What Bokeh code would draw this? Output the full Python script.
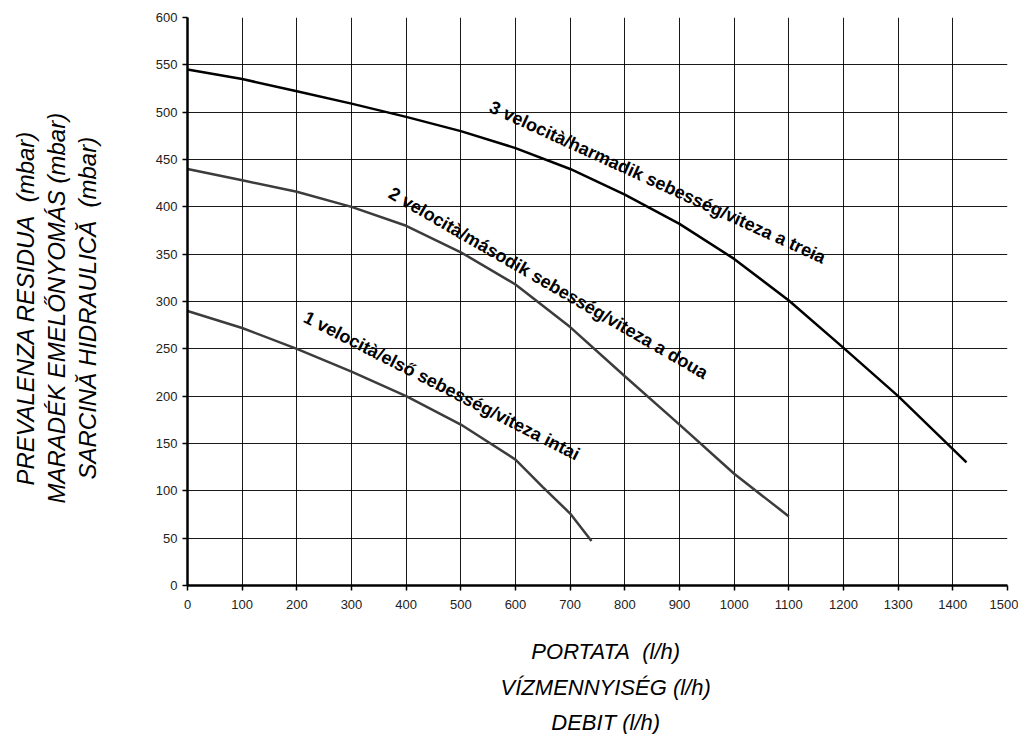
import math
from bokeh.plotting import figure
from bokeh.layouts import column
from bokeh.models import Label, Range1d, FixedTicker
from bokeh.core.properties import value
from bokeh.embed import file_html
from bokeh.resources import INLINE

x_ticks = list(range(0, 1501, 100))
y_ticks = list(range(0, 601, 50))

q3 = [0, 100, 200, 300, 400, 500, 600, 700, 800, 900, 1000, 1100, 1200, 1300, 1425]
h3 = [545, 535, 522, 509, 495, 480, 462, 440, 413, 382, 345, 301, 251, 200, 130]

q2 = [0, 100, 200, 300, 400, 500, 600, 700, 800, 900, 1000, 1100]
h2 = [440, 428, 416, 400, 380, 352, 318, 273, 221, 170, 118, 73]

q1 = [0, 100, 200, 300, 400, 500, 600, 650, 700, 739]
h1 = [290, 272, 250, 226, 200, 170, 133, 104, 76, 47]

labels = ["1 velocità/első sebesség/viteza intai",
          "2 velocità/második sebesség/viteza a doua",
          "3 velocità/harmadik sebesség/viteza a treia"]

NB = "\u00a0"
y_title = ["PREVALENZA RESIDUA" + NB + " (mbar)" + NB + NB,
           "MARADÉK EMELŐNYOMÁS (mbar)" + NB + NB,
           "SARCINĂ HIDRAULICĂ" + NB + " (mbar)" + NB + NB]
x_title = ["PORTATA" + NB + " (l/h)", "VÍZMENNYISÉG (l/h)", "DEBIT (l/h)"]

p = figure(width=1018, height=617, output_backend="svg", toolbar_location=None,
           x_range=Range1d(0, 1500), y_range=Range1d(0, 600),
           min_border_left=187, min_border_right=11, min_border_top=17, min_border_bottom=32)
p.outline_line_color = None
p.background_fill_color = "white"
p.border_fill_color = "white"

for ax, ticks in ((p.xaxis[0], x_ticks), (p.yaxis[0], y_ticks)):
    ax.ticker = FixedTicker(ticks=ticks)
    ax.axis_line_width = 2.5
    ax.axis_line_color = "black"
    ax.major_tick_line_color = "black"
    ax.major_tick_line_width = 1.5
    ax.major_tick_out = 5
    ax.major_tick_in = 0
    ax.minor_tick_line_color = None
    ax.major_label_text_font = "Liberation Sans"
    ax.major_label_text_font_size = "13px"
    ax.major_label_text_color = "#222222"
    ax.axis_label_text_font = "Liberation Sans"
    ax.axis_label_text_font_style = "italic"
    ax.axis_label_text_font_size = "24px"
    ax.axis_label_text_color = "black"
    ax.axis_label_text_align = "center"
p.xaxis.major_label_standoff = 9
p.yaxis.major_label_standoff = 5

p.yaxis.axis_label = "\n".join(y_title)
p.yaxis.axis_label_text_line_height = 1.14
p.yaxis.axis_label_standoff = 52

for g, ticks in ((p.xgrid[0], x_ticks), (p.ygrid[0], y_ticks)):
    g.ticker = FixedTicker(ticks=ticks)
    g.grid_line_color = "black"
    g.grid_line_width = 1
    g.grid_line_alpha = 0.9

p.line(q3, h3, line_color="black", line_width=2.5)
p.line(q2, h2, line_color="#3c3c3c", line_width=2.5)
p.line(q1, h1, line_color="#3c3c3c", line_width=2.5)

lab_pos = [(223, 294, 27), (380, 425, 30), (562, 516, 24.5)]
for t, (lx, ly, ang) in zip(labels, lab_pos):
    p.add_layout(Label(x=lx, y=ly, text=t, angle=-math.radians(ang),
                       text_font="Liberation Sans", text_font_style="bold",
                       text_font_size="18px", text_color="black",
                       text_align="left", text_baseline="top"))

# x-axis title block, drawn in a strip below the chart (frame aligned with the chart's frame)
p2 = figure(width=1018, height=117, output_backend="svg", toolbar_location=None,
            x_range=Range1d(0, 1), y_range=Range1d(0, 1),
            min_border_left=0, min_border_right=0, min_border_top=0, min_border_bottom=0)
p2.axis.visible = False
p2.grid.visible = False
p2.outline_line_color = None
p2.border_fill_color = "white"
p2.background_fill_color = "white"
p2.text(x=[0.51] * 3, y=[0.709, 0.402, 0.103], text=x_title,
        text_font=value("Liberation Sans"), text_font_style="italic",
        text_font_size="22px", text_color="black",
        text_align="center", text_baseline="middle")

layout = column(p, p2, spacing=0)
open("out.html", "w").write(file_html(layout, INLINE))
